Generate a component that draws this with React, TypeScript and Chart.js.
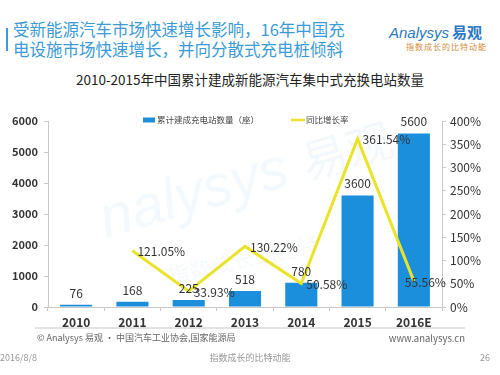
import React, { useEffect, useRef } from "react";
import { Chart, registerables } from "chart.js";

Chart.register(...registerables);

const categories = ["2010", "2011", "2012", "2013", "2014", "2015", "2016E"];
const stationCounts = [76, 168, 225, 518, 780, 3600, 5600];
const growthRates: (number | null)[] = [null, 121.05, 33.93, 130.22, 50.58, 361.54, 55.56];
const barLabel = "累计建成充电站数量（座）";
const lineLabel = "同比增长率";

const BAR_COLOR = "#1b8fdb";
const LINE_COLOR = "#eae32a";
const FONT = "'Noto Sans CJK SC', 'Noto Sans', sans-serif";

const labelPlugin = {
  id: "valueLabels",
  afterDatasetsDraw(chart: any) {
    const ctx = chart.ctx;
    ctx.save();
    ctx.fillStyle = "#333";
    ctx.font = `12px ${FONT}`;
    ctx.textBaseline = "middle";
    const barMeta = chart.getDatasetMeta(0);
    barMeta.data.forEach((el: any, i: number) => {
      ctx.textAlign = "center";
      ctx.fillText(String(stationCounts[i]), el.x, el.y - 11.5);
    });
    const lineMeta = chart.getDatasetMeta(1);
    lineMeta.data.forEach((el: any, i: number) => {
      const v = growthRates[i];
      if (v == null) return;
      ctx.textAlign = "left";
      const last = i === growthRates.length - 1;
      ctx.fillText(v.toFixed(2) + "%", last ? el.x - 9 : el.x + 5, el.y + 1);
    });
    ctx.restore();
  },
  afterDraw(chart: any) {
    const ctx = chart.ctx;
    const area = chart.chartArea;
    const cx = (area.left + area.right) / 2;
    const y = area.top - 1;
    ctx.save();
    ctx.font = `8.5px ${FONT}`;
    ctx.textBaseline = "middle";
    ctx.textAlign = "left";
    const x0 = cx - 102;
    ctx.fillStyle = BAR_COLOR;
    ctx.fillRect(x0, y - 2.5, 12, 5);
    ctx.fillStyle = "#444";
    ctx.fillText(barLabel, x0 + 14, y);
    const x1 = cx + 46;
    ctx.strokeStyle = LINE_COLOR;
    ctx.lineWidth = 2.5;
    ctx.beginPath();
    ctx.moveTo(x1, y);
    ctx.lineTo(x1 + 14, y);
    ctx.stroke();
    ctx.fillText(lineLabel, x1 + 15, y);
    ctx.restore();
  },
};

function ChartCanvas() {
  const ref = useRef<HTMLCanvasElement>(null);
  useEffect(() => {
    if (!ref.current) return;
    const chart = new Chart(ref.current, {
      type: "bar",
      data: {
        labels: categories,
        datasets: [
          {
            type: "bar",
            label: barLabel,
            data: stationCounts,
            backgroundColor: BAR_COLOR,
            yAxisID: "y",
            categoryPercentage: 1,
            barPercentage: 0.57,
            order: 2,
          },
          {
            type: "line",
            label: lineLabel,
            data: growthRates,
            borderColor: LINE_COLOR,
            backgroundColor: LINE_COLOR,
            borderWidth: 3,
            pointRadius: 0,
            tension: 0,
            yAxisID: "y1",
            order: 1,
          } as any,
        ],
      },
      options: {
        responsive: false,
        animation: false,
        layout: { padding: { left: 8, right: 8, top: 121, bottom: 38 } },
        plugins: {
          legend: { display: false },
          tooltip: { enabled: false },
          title: { display: false },
        },
        scales: {
          x: {
            grid: { display: true, drawOnChartArea: false, offset: true, tickLength: 4, color: "#c8c8c8" },
            border: { color: "#c8c8c8" },
            ticks: { color: "#333", font: { family: FONT, size: 12, weight: "bold" }, padding: 4 },
            afterFit: (s: any) => { s.height = 30; },
          },
          y: {
            position: "left",
            min: 0,
            max: 6000,
            ticks: {
              stepSize: 1000,
              color: "#333",
              font: { family: FONT, size: 11, weight: "bold" },
              padding: 6,
              callback: (v: any) => String(v),
            },
            grid: { display: true, drawOnChartArea: false, tickLength: 4, color: "#c8c8c8" },
            border: { color: "#c8c8c8" },
            afterFit: (s: any) => { s.width = 40; },
          },
          y1: {
            position: "right",
            min: 0,
            max: 400,
            ticks: {
              stepSize: 50,
              color: "#333",
              font: { family: FONT, size: 12 },
              padding: 4,
              callback: (v: any) => v + "%",
            },
            grid: { display: true, drawOnChartArea: false, tickLength: 4, color: "#c8c8c8" },
            border: { color: "#c8c8c8" },
            afterFit: (s: any) => { s.width = 50; },
          },
        },
      },
      plugins: [labelPlugin],
    });
    return () => chart.destroy();
  }, []);
  return (
    <canvas
      ref={ref}
      width={500}
      height={375}
      style={{ position: "absolute", left: 0, top: 0, width: 500, height: 375 }}
    />
  );
}

export default function App() {
  const abs = (s: React.CSSProperties): React.CSSProperties => ({ position: "absolute", whiteSpace: "nowrap", ...s });
  return (
    <div
      style={{
        position: "absolute",
        left: 0,
        top: 0,
        width: 500,
        height: 375,
        background: "#fff",
        overflow: "hidden",
        fontFamily: FONT,
      }}
    >
      {/* watermark */}
      <div style={abs({ left: 92, top: 190, fontSize: 58, fontStyle: "italic", color: "rgba(120,185,225,0.09)", transform: "rotate(-16deg)", transformOrigin: "left top", fontFamily: "'Liberation Sans', sans-serif", lineHeight: "60px" })}>
        nalysys
      </div>
      <div style={abs({ left: 300, top: 120, fontSize: 46, color: "rgba(120,185,225,0.09)", transform: "rotate(-16deg)", lineHeight: "56px" })}>易观</div>
      <div style={abs({ left: 165, top: 262, fontSize: 22, color: "rgba(120,185,225,0.08)", transform: "rotate(-12deg)", transformOrigin: "left top", lineHeight: "24px" })}>
        指数成长的比特
      </div>

      {/* heading */}
      <div style={abs({ left: 6, top: 28, width: 2, height: 23, background: "#3b9bd6" })} />
      <div style={abs({ left: 13, top: 19, fontSize: 16.5, lineHeight: "20px", color: "#3b9bd6" })}>
        受新能源汽车市场快速增长影响，16年中国充
        <br />
        电设施市场快速增长，并向分散式充电桩倾斜
      </div>

      {/* logo */}
      <div style={abs({ left: 389, top: 22, fontSize: 15, lineHeight: "20px", color: "#2b78c2" })}>
        <span style={{ fontStyle: "italic", fontFamily: "'Liberation Sans', sans-serif" }}>Analysys</span>
        <span style={{ fontWeight: "bold", marginLeft: 3 }}>易观</span>
      </div>
      <div style={abs({ left: 406, top: 42, fontSize: 8, lineHeight: "10px", color: "#d58b3b", letterSpacing: 1 })}>指数成长的比特动能</div>

      {/* chart title */}
      <div style={abs({ left: 0, top: 70, width: 500, textAlign: "center", fontSize: 13.5, lineHeight: "18px", color: "#222" })}>
        2010-2015年中国累计建成新能源汽车集中式充换电站数量
      </div>

      <ChartCanvas />

      {/* source */}
      <div style={abs({ left: 35, top: 327, width: 430, height: 2, background: "#e2e2e2" })} />
      <div style={abs({ left: 37, top: 332, fontSize: 9, lineHeight: "12px", color: "#666" })}>© Analysys 易观 · 中国汽车工业协会,国家能源局</div>
      <div style={abs({ right: 35, top: 332, fontSize: 9.5, lineHeight: "12px", color: "#666" })}>www.analysys.cn</div>

      {/* footer */}
      <div style={abs({ left: 0, top: 352, fontSize: 9, lineHeight: "12px", color: "#999" })}>2016/8/8</div>
      <div style={abs({ left: 0, top: 352, width: 500, textAlign: "center", fontSize: 9, lineHeight: "12px", color: "#999" })}>指数成长的比特动能</div>
      <div style={abs({ right: 10, top: 352, fontSize: 9, lineHeight: "12px", color: "#999" })}>26</div>
    </div>
  );
}
